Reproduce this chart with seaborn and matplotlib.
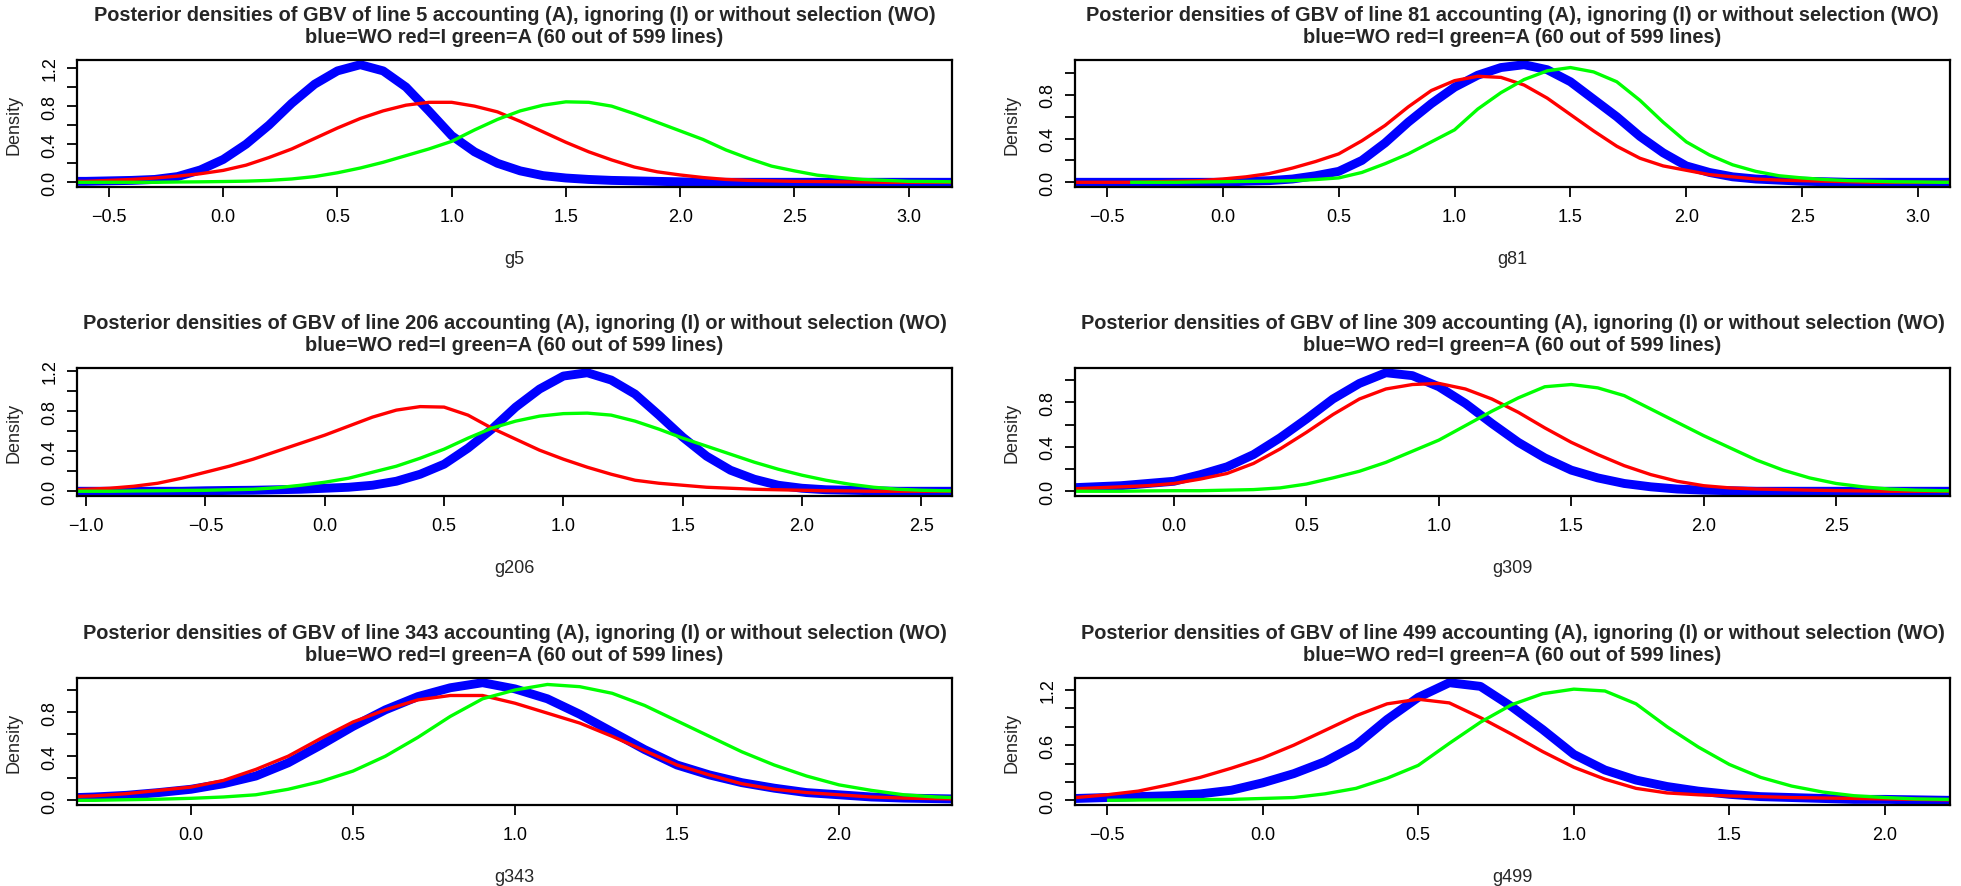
import numpy as np
import pandas as pd
import matplotlib
matplotlib.use("Agg")
import matplotlib.pyplot as plt
from matplotlib.ticker import MultipleLocator, FuncFormatter
import seaborn as sns

# ---- data (density values, step 0.1 in x) ----
# line 5
g5_x = [-0.7, -0.6, -0.5, -0.4, -0.3, -0.2, -0.1, 0.0, 0.1, 0.2, 0.3, 0.4, 0.5, 0.6, 0.7, 0.8, 0.9, 1.0, 1.1, 1.2,
        1.3, 1.4, 1.5, 1.6, 1.7, 1.8, 1.9, 2.0, 2.1, 2.2, 2.3, 2.4, 2.5, 2.6, 2.7, 2.8, 2.9, 3.0, 3.1, 3.2]
g5_wo = [0.01, 0.01, 0.015, 0.02, 0.03, 0.06, 0.13, 0.24, 0.40, 0.60, 0.83, 1.03, 1.17, 1.235, 1.17, 1.00, 0.75, 0.49, 0.32, 0.20,
         0.12, 0.07, 0.045, 0.03, 0.02, 0.015, 0.01, 0.005, 0, 0, 0, 0, 0, 0, 0, 0, 0, 0, 0, 0]
g5_i = [0.01, 0.01, 0.02, 0.03, 0.045, 0.065, 0.09, 0.125, 0.18, 0.26, 0.35, 0.46, 0.57, 0.67, 0.75, 0.81, 0.84, 0.84, 0.80, 0.74,
        0.64, 0.53, 0.42, 0.32, 0.235, 0.16, 0.11, 0.077, 0.05, 0.03, 0.02, 0.015, 0.01, 0.008, 0.005, 0.003, 0, 0, 0, 0]
g5_a = [0, 0, 0, 0, 0, 0.003, 0.005, 0.008, 0.012, 0.02, 0.035, 0.06, 0.10, 0.15, 0.21, 0.28, 0.35, 0.43, 0.55, 0.66,
        0.75, 0.81, 0.845, 0.84, 0.80, 0.72, 0.63, 0.54, 0.45, 0.34, 0.25, 0.17, 0.12, 0.075, 0.05, 0.03, 0.02, 0.01, 0.008, 0.005]

# line 81
g81_x = [-0.7, -0.6, -0.5, -0.4, -0.3, -0.2, -0.1, 0.0, 0.1, 0.2, 0.3, 0.4, 0.5, 0.6, 0.7, 0.8, 0.9, 1.0, 1.1, 1.2,
         1.3, 1.4, 1.5, 1.6, 1.7, 1.8, 1.9, 2.0, 2.1, 2.2, 2.3, 2.4, 2.5, 2.6, 2.7, 2.8, 2.9, 3.0, 3.1, 3.2]
g81_wo = [0, 0, 0, 0, 0, 0, 0, 0, 0.01, 0.015, 0.03, 0.06, 0.10, 0.20, 0.36, 0.55, 0.72, 0.87, 0.98, 1.05,
          1.076, 1.03, 0.92, 0.76, 0.60, 0.42, 0.27, 0.15, 0.09, 0.05, 0.03, 0.02, 0.01, 0.005, 0, 0, 0, 0, 0, 0]
g81_i = [0, 0, 0, 0, 0.005, 0.01, 0.015, 0.03, 0.05, 0.08, 0.13, 0.19, 0.26, 0.38, 0.52, 0.69, 0.84, 0.93, 0.97, 0.96,
         0.89, 0.77, 0.62, 0.47, 0.33, 0.22, 0.15, 0.11, 0.07, 0.05, 0.03, 0.02, 0.015, 0.01, 0.005, 0, 0, 0, 0, 0]
g81_a = [None, None, None, 0, 0, 0, 0.003, 0.005, 0.008, 0.01, 0.015, 0.025, 0.04, 0.09, 0.17, 0.26, 0.37, 0.48, 0.67, 0.82,
         0.94, 1.02, 1.05, 1.01, 0.92, 0.75, 0.55, 0.37, 0.25, 0.16, 0.10, 0.06, 0.04, 0.025, 0.015, 0.01, 0.005, 0.003, 0, 0]

# line 206
g206_x = [-1.1, -1.0, -0.9, -0.8, -0.7, -0.6, -0.5, -0.4, -0.3, -0.2, -0.1, 0.0, 0.1, 0.2, 0.3, 0.4, 0.5, 0.6, 0.7, 0.8,
          0.9, 1.0, 1.1, 1.2, 1.3, 1.4, 1.5, 1.6, 1.7, 1.8, 1.9, 2.0, 2.1, 2.2, 2.3, 2.4, 2.5, 2.6, 2.7]
g206_wo = [0, 0, 0, 0, 0, 0, 0.005, 0.008, 0.01, 0.015, 0.02, 0.03, 0.04, 0.06, 0.10, 0.17, 0.27, 0.43, 0.62, 0.84,
           1.02, 1.15, 1.183, 1.11, 0.97, 0.76, 0.54, 0.35, 0.21, 0.12, 0.06, 0.03, 0.015, 0.01, 0.005, 0, 0, 0, 0]
g206_i = [0.01, 0.02, 0.03, 0.05, 0.08, 0.13, 0.19, 0.25, 0.32, 0.40, 0.48, 0.56, 0.65, 0.74, 0.81, 0.845, 0.84, 0.76, 0.63, 0.52,
          0.41, 0.32, 0.24, 0.17, 0.11, 0.08, 0.06, 0.04, 0.03, 0.02, 0.015, 0.01, 0.005, 0.003, 0, 0, 0, 0, 0]
g206_a = [0, 0, 0, 0.003, 0.005, 0.008, 0.01, 0.015, 0.02, 0.035, 0.06, 0.09, 0.13, 0.19, 0.25, 0.33, 0.42, 0.53, 0.63, 0.70,
          0.75, 0.775, 0.78, 0.76, 0.70, 0.62, 0.53, 0.45, 0.37, 0.29, 0.22, 0.16, 0.11, 0.07, 0.04, 0.02, 0.01, 0.005, 0.003]

# line 309
g309_x = [-0.4, -0.3, -0.2, -0.1, 0.0, 0.1, 0.2, 0.3, 0.4, 0.5, 0.6, 0.7, 0.8, 0.9, 1.0, 1.1, 1.2, 1.3, 1.4, 1.5,
          1.6, 1.7, 1.8, 1.9, 2.0, 2.1, 2.2, 2.3, 2.4, 2.5, 2.6, 2.7, 2.8, 2.9, 3.0]
g309_wo = [0.03, 0.04, 0.05, 0.07, 0.09, 0.15, 0.22, 0.33, 0.48, 0.65, 0.83, 0.97, 1.066, 1.04, 0.94, 0.79, 0.61, 0.44, 0.30, 0.19,
           0.12, 0.07, 0.04, 0.02, 0.01, 0.005, 0, 0, 0, 0, 0, 0, 0, 0, 0]
g309_i = [0.02, 0.03, 0.04, 0.05, 0.07, 0.11, 0.16, 0.25, 0.38, 0.53, 0.69, 0.83, 0.92, 0.96, 0.97, 0.92, 0.83, 0.71, 0.57, 0.44,
          0.33, 0.23, 0.15, 0.09, 0.05, 0.03, 0.02, 0.015, 0.01, 0.006, 0.003, 0, 0, 0, 0]
g309_a = [0, 0, 0, 0.003, 0.005, 0.005, 0.01, 0.015, 0.03, 0.065, 0.12, 0.18, 0.26, 0.36, 0.46, 0.59, 0.72, 0.84, 0.94, 0.96,
          0.93, 0.86, 0.74, 0.62, 0.50, 0.39, 0.28, 0.19, 0.12, 0.07, 0.04, 0.02, 0.01, 0.005, 0.003]

# line 343
g343_x = [-0.4, -0.3, -0.2, -0.1, 0.0, 0.1, 0.2, 0.3, 0.4, 0.5, 0.6, 0.7, 0.8, 0.9, 1.0, 1.1, 1.2, 1.3, 1.4, 1.5,
          1.6, 1.7, 1.8, 1.9, 2.0, 2.1, 2.2, 2.3, 2.4]
g343_wo = [0.02, 0.03, 0.045, 0.07, 0.10, 0.15, 0.22, 0.34, 0.50, 0.67, 0.82, 0.94, 1.02, 1.066, 1.01, 0.92, 0.78, 0.62, 0.46, 0.32,
           0.23, 0.16, 0.11, 0.07, 0.05, 0.03, 0.02, 0.015, 0.01]
g343_i = [0.03, 0.04, 0.06, 0.09, 0.12, 0.18, 0.28, 0.40, 0.56, 0.71, 0.82, 0.91, 0.95, 0.95, 0.88, 0.79, 0.70, 0.58, 0.45, 0.32,
          0.23, 0.15, 0.10, 0.07, 0.05, 0.03, 0.02, 0.015, 0.01]
g343_a = [0, 0, 0.005, 0.01, 0.018, 0.03, 0.05, 0.10, 0.17, 0.265, 0.40, 0.57, 0.76, 0.92, 1.00, 1.05, 1.03, 0.97, 0.86, 0.72,
          0.58, 0.44, 0.32, 0.22, 0.14, 0.09, 0.05, 0.03, 0.02]

# line 499
g499_x = [-0.7, -0.6, -0.5, -0.4, -0.3, -0.2, -0.1, 0.0, 0.1, 0.2, 0.3, 0.4, 0.5, 0.6, 0.7, 0.8, 0.9, 1.0, 1.1, 1.2,
          1.3, 1.4, 1.5, 1.6, 1.7, 1.8, 1.9, 2.0, 2.1, 2.2, 2.3]
g499_wo = [0.02, 0.02, 0.03, 0.04, 0.05, 0.07, 0.11, 0.19, 0.29, 0.42, 0.60, 0.88, 1.12, 1.28, 1.24, 1.02, 0.77, 0.50, 0.33, 0.22,
           0.15, 0.10, 0.065, 0.04, 0.03, 0.02, 0.01, 0.01, 0.005, 0, 0]
g499_i = [0.02, 0.03, 0.06, 0.10, 0.17, 0.25, 0.35, 0.46, 0.60, 0.76, 0.92, 1.05, 1.10, 1.06, 0.90, 0.72, 0.53, 0.36, 0.23, 0.13,
          0.08, 0.06, 0.047, 0.04, 0.03, 0.025, 0.02, 0.015, 0.01, 0.005, 0.003]
g499_a = [None, None, 0, 0.003, 0.005, 0.008, 0.01, 0.02, 0.03, 0.07, 0.13, 0.24, 0.38, 0.62, 0.85, 1.04, 1.16, 1.21, 1.19, 1.05,
          0.80, 0.58, 0.39, 0.25, 0.155, 0.09, 0.05, 0.03, 0.015, 0.01, 0.005]

lines = [5, 81, 206, 309, 343, 499]
series = {
    5: (g5_x, g5_wo, g5_i, g5_a),
    81: (g81_x, g81_wo, g81_i, g81_a),
    206: (g206_x, g206_wo, g206_i, g206_a),
    309: (g309_x, g309_wo, g309_i, g309_a),
    343: (g343_x, g343_wo, g343_i, g343_a),
    499: (g499_x, g499_wo, g499_i, g499_a),
}
x_limits = {5: (-0.64, 3.19), 81: (-0.638, 3.138), 206: (-1.038, 2.628),
            309: (-0.374, 2.93), 343: (-0.352, 2.349), 499: (-0.603, 2.209)}
label_step = {5: 0.4, 81: 0.4, 206: 0.4, 309: 0.4, 343: 0.4, 499: 0.6}

# ---- style ----
sns.set_theme(style="ticks")
plt.rcParams['font.family'] = ['Liberation Sans', 'DejaVu Sans']
plt.rcParams['axes.unicode_minus'] = True

W, H = 1961, 887
fig = plt.figure(figsize=(W / 100, H / 100), dpi=100)
fig.patch.set_facecolor("white")

col_left = [77, 1075]
ax_w = 875
row_top = [61, 369, 679]
row_bot = [188, 497, 806]

colors = {"WO": "#0000FF", "I": "#FF0000", "A": "#00FF00"}
widths = {"WO": 6.4, "I": 2.4, "A": 2.4}


def fmt_x(v, pos):
    return f"{v:.1f}".replace("-", "\u2212")


for k, n in enumerate(lines):
    r, c = divmod(k, 2)
    left = col_left[c] / W
    bottom = 1 - row_bot[r] / H
    height = (row_bot[r] - row_top[r]) / H
    ax = fig.add_axes([left, bottom, ax_w / W, height])

    xs, wo, ig, ac = series[n]
    df = pd.DataFrame({"x": xs, "WO": wo, "I": ig, "A": ac})
    for key in ["WO", "I", "A"]:
        sub = df[["x", key]].dropna()
        sns.lineplot(data=sub, x="x", y=key, ax=ax, color=colors[key],
                     linewidth=widths[key], sort=False, estimator=None,
                     solid_capstyle="butt", solid_joinstyle="round")

    ymax = max(wo)
    ax.set_xlim(*x_limits[n])
    ax.set_ylim(-0.04 * ymax, 1.04 * ymax)

    step = label_step[n]
    ax.xaxis.set_major_locator(MultipleLocator(0.5))
    ax.xaxis.set_major_formatter(FuncFormatter(fmt_x))
    ax.yaxis.set_major_locator(MultipleLocator(0.2))
    ax.yaxis.set_major_formatter(FuncFormatter(
        lambda v, pos, s=step: f"{v:.1f}" if abs(v / s - round(v / s)) < 1e-6 else ""))

    for sp in ax.spines.values():
        sp.set_visible(True)
        sp.set_linewidth(1.6)
        sp.set_color("black")
    ax.tick_params(axis="both", direction="out", length=7.2, width=1.3,
                   color="black", labelsize=13, labelcolor="black")
    ax.tick_params(axis="x", pad=8)
    ax.tick_params(axis="y", pad=6)
    for lab in ax.get_yticklabels():
        lab.set_rotation(90)
        lab.set_va("center")

    ax.set_xlabel(f"g{n}", fontsize=13, labelpad=18)
    ax.set_ylabel("Density", fontsize=13, labelpad=14)
    ax.set_title(f"Posterior densities of GBV of line {n} accounting (A), ignoring (I) or without selection (WO)\n"
                 f"blue=WO red=I green=A (60 out of 599 lines)",
                 fontsize=14.4, fontweight="bold", pad=13, linespacing=1.2)
    ax.grid(False)

fig.savefig("out.png", dpi=100, facecolor="white")
